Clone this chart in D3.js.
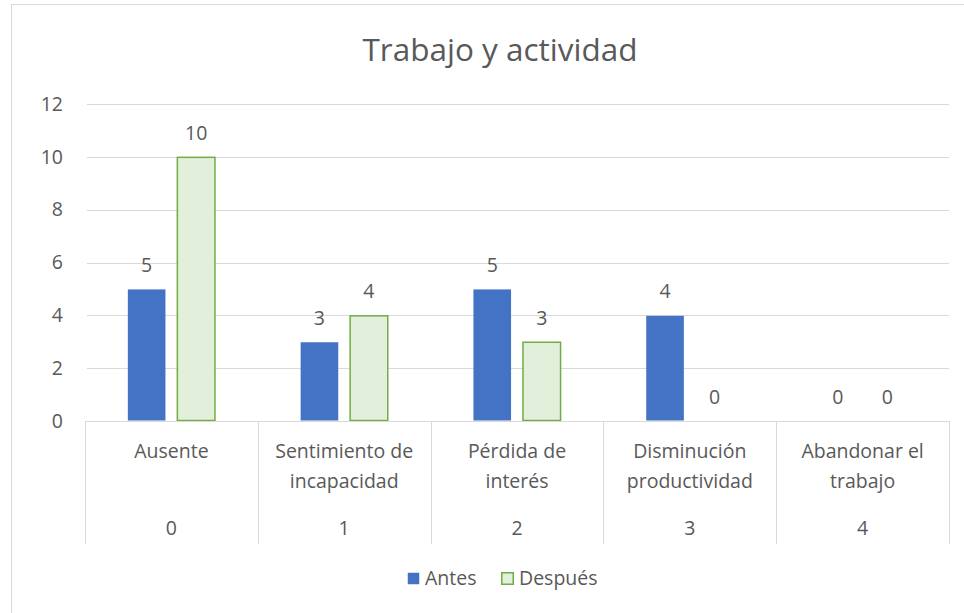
<!DOCTYPE html>
<html>
<head>
<meta charset="utf-8">
<script src="https://cdn.jsdelivr.net/npm/d3@7"></script>
<style>
  body { margin: 0; background: #fff; }
  svg text { font-family: "Open Sans", "Noto Sans", sans-serif; fill: #595959; }
</style>
</head>
<body>
<div id="chart"></div>
<script>
const categories = [
  ["Ausente"],
  ["Sentimiento de", "incapacidad"],
  ["Pérdida de", "interés"],
  ["Disminución", "productividad"],
  ["Abandonar el", "trabajo"]
];
const levels = ["0", "1", "2", "3", "4"];
const seriesNames = ["Antes", "Después"];
const antes = [5, 3, 5, 4, 0];
const despues = [10, 4, 3, 0, 0];
const yTicks = [0, 2, 4, 6, 8, 10, 12];

const width = 964, height = 613;
const margin = { top: 104, right: 15, bottom: 192, left: 85 };
const plotW = width - margin.left - margin.right;
const plotH = height - margin.top - margin.bottom;
const fontSize = "19.5px";

const svg = d3.select("#chart").append("svg")
  .attr("width", width)
  .attr("height", height);

// chart border
svg.append("rect")
  .attr("x", 11.5).attr("y", 4.5)
  .attr("width", 970).attr("height", 620)
  .attr("fill", "none")
  .attr("stroke", "#d9d9d9");

svg.append("text")
  .attr("x", 500).attr("y", 61)
  .attr("text-anchor", "middle")
  .style("font-size", "31.5px")
  .text("Trabajo y actividad");

const g = svg.append("g")
  .attr("transform", "translate(" + margin.left + "," + margin.top + ")");

const x = d3.scaleBand()
  .domain(levels)
  .range([0, plotW])
  .paddingInner(0)
  .paddingOuter(0);

const xInner = d3.scaleBand()
  .domain(seriesNames)
  .range([x.bandwidth() * 0.245, x.bandwidth() * 0.755])
  .paddingInner(0.22);

const y = d3.scaleLinear()
  .domain([0, 12])
  .range([plotH, 0]);

// gridlines
g.append("g")
  .selectAll("line")
  .data(yTicks)
  .join("line")
  .attr("x1", 2).attr("x2", plotW)
  .attr("y1", d => Math.round(y(d)) + 0.5)
  .attr("y2", d => Math.round(y(d)) + 0.5)
  .attr("stroke", "#d9d9d9");

// y labels
g.append("g")
  .selectAll("text")
  .data(yTicks)
  .join("text")
  .attr("x", -22)
  .attr("y", d => y(d))
  .attr("dy", "0.35em")
  .attr("text-anchor", "end")
  .style("font-size", fontSize)
  .text(d => d);

const rows = levels.map((l, i) => ({ level: l, values: [antes[i], despues[i]] }));

const groups = g.selectAll(".cat")
  .data(rows)
  .join("g")
  .attr("class", "cat")
  .attr("transform", d => "translate(" + x(d.level) + ",0)");

groups.selectAll("rect")
  .data(d => d.values.map((v, j) => ({ name: seriesNames[j], value: v })))
  .join("rect")
  .filter(d => d.value > 0)
  .attr("x", d => xInner(d.name) + 0.5)
  .attr("y", d => y(d.value) + 0.5)
  .attr("width", xInner.bandwidth() - 1)
  .attr("height", d => y(0) - y(d.value) - 1)
  .attr("fill", d => d.name === "Antes" ? "#4472c4" : "#e2efda")
  .attr("stroke", d => d.name === "Antes" ? "none" : "#70ad47")
  .attr("stroke-width", 1.5);

groups.selectAll(".value-label")
  .data(d => d.values.map((v, j) => ({ name: seriesNames[j], value: v })))
  .join("text")
  .attr("class", "value-label")
  .attr("x", d => xInner(d.name) + xInner.bandwidth() / 2)
  .attr("y", d => y(d.value) - 17)
  .attr("text-anchor", "middle")
  .style("font-size", fontSize)
  .text(d => d.value);

// category axis
const axisG = g.append("g").attr("transform", "translate(0," + plotH + ")");

axisG.append("line")
  .attr("x1", 0).attr("x2", plotW)
  .attr("y1", 0.5).attr("y2", 0.5)
  .attr("stroke", "#d9d9d9");

axisG.selectAll(".divider")
  .data(levels.concat(["end"]))
  .join("line")
  .attr("class", "divider")
  .attr("x1", (d, i) => Math.round(i * x.bandwidth()) + 0.5)
  .attr("x2", (d, i) => Math.round(i * x.bandwidth()) + 0.5)
  .attr("y1", 0).attr("y2", 123)
  .attr("stroke", "#d9d9d9");

axisG.selectAll(".cat-label")
  .data(categories)
  .join("text")
  .attr("class", "cat-label")
  .attr("x", (d, i) => x(levels[i]) + x.bandwidth() / 2)
  .attr("y", 37)
  .attr("text-anchor", "middle")
  .style("font-size", fontSize)
  .selectAll("tspan")
  .data(d => d)
  .join("tspan")
  .attr("x", function() { return this.parentNode.getAttribute("x"); })
  .attr("dy", (d, i) => i === 0 ? 0 : 30)
  .text(d => d);

axisG.selectAll(".level-label")
  .data(levels)
  .join("text")
  .attr("class", "level-label")
  .attr("x", d => x(d) + x.bandwidth() / 2)
  .attr("y", 114)
  .attr("text-anchor", "middle")
  .style("font-size", fontSize)
  .text(d => d);

// legend
const legend = svg.append("g").attr("transform", "translate(407,572)");
const legendItems = [
  { name: "Antes", fill: "#4472c4", stroke: "none", x: 0 },
  { name: "Después", fill: "#e2efda", stroke: "#70ad47", x: 94 }
];
legendItems.forEach(item => {
  legend.append("rect")
    .attr("x", item.x + 0.75).attr("y", 0.75)
    .attr("width", 11.5).attr("height", 11.5)
    .attr("fill", item.fill)
    .attr("stroke", item.stroke)
    .attr("stroke-width", 1.5);
  legend.append("text")
    .attr("x", item.x + 18).attr("y", 6)
    .attr("dy", "0.35em")
    .style("font-size", fontSize)
    .text(item.name);
});
</script>
</body>
</html>
